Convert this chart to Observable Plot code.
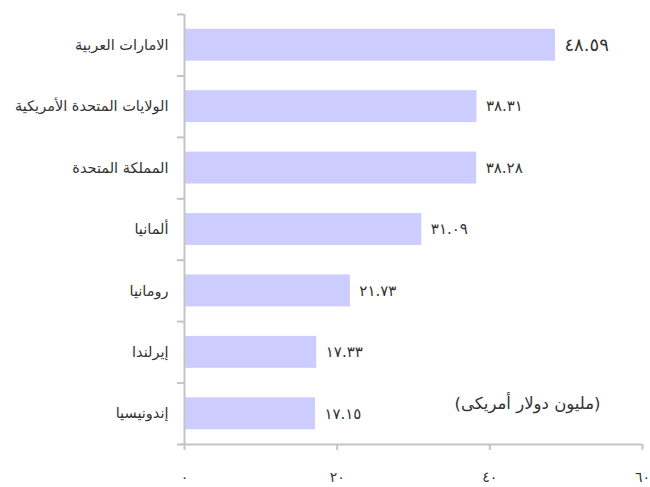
<!DOCTYPE html>
<html><head><meta charset="utf-8">
<script src="https://cdn.jsdelivr.net/npm/d3@7"></script>
<script src="https://cdn.jsdelivr.net/npm/@observablehq/plot@0.6"></script>
<style>
body{margin:0;background:#fff;}
svg{font-family:"DejaVu Sans",sans-serif;}
</style></head><body>
<div id="chart"></div>
<script>
const countries = ["الامارات العربية","الولايات المتحدة الأمريكية","المملكة المتحدة","ألمانيا","رومانيا","إيرلندا","إندونيسيا"];
const values = [48.59, 38.31, 38.28, 31.09, 21.73, 17.33, 17.15];
const valueLabels = ["٤٨.٥٩","٣٨.٣١","٣٨.٢٨","٣١.٠٩","٢١.٧٣","١٧.٣٣","١٧.١٥"];
const xTicks = [0, 20, 40, 60];
const xTickLabels = ["٠","٢٠","٤٠","٦٠"];
const unitLabel = "(مليون دولار أمريكى)";

const data = countries.map((c, i) => ({country: c, value: values[i], label: valueLabels[i], i}));
const n = countries.length;
const boundaries = d3.range(n + 1);
const axisColor = "#c4c4c4";
const textColor = "#333";

const chart = Plot.plot({
  width: 650, height: 487,
  marginLeft: 184, marginRight: 8, marginTop: 14, marginBottom: 43,
  x: {type: "linear", domain: [0, 60], label: null},
  y: {type: "linear", domain: [n, 0], label: null},
  marks: [
    Plot.rect(data, {x1: 0, x2: "value", y1: d => d.i + 0.24, y2: d => d.i + 0.76, fill: "#ccccff"}),
    Plot.axisY(boundaries, {tickSize: 7, tickFormat: () => "", stroke: axisColor, strokeWidth: 2, label: null}),
    Plot.ruleX([0], {y1: 0, y2: n, stroke: axisColor, strokeWidth: 2}),
    Plot.ruleY([n], {x1: -0.5, x2: 60, stroke: axisColor, strokeWidth: 2}),
    Plot.axisX(xTicks, {tickSize: 6, tickPadding: 22, stroke: axisColor, strokeWidth: 2, label: null, tickFormat: d => xTickLabels[xTicks.indexOf(d)], fill: textColor, fontSize: 14}),
    Plot.text(data, {x: 0, y: d => d.i + 0.5, text: "country", textAnchor: "end", dx: -16, fill: textColor, fontSize: 14.5}),
    Plot.text(data, {x: "value", y: d => d.i + 0.5, text: "label", textAnchor: "start", dx: 9, fill: textColor, fontSize: d => d.value === d3.max(values) ? 18 : 15}),
    Plot.text([unitLabel], {frameAnchor: "bottom-right", dx: -42, dy: -36, fill: textColor, fontSize: 16.5})
  ]
});
document.getElementById("chart").appendChild(chart);
</script>
</body></html>
